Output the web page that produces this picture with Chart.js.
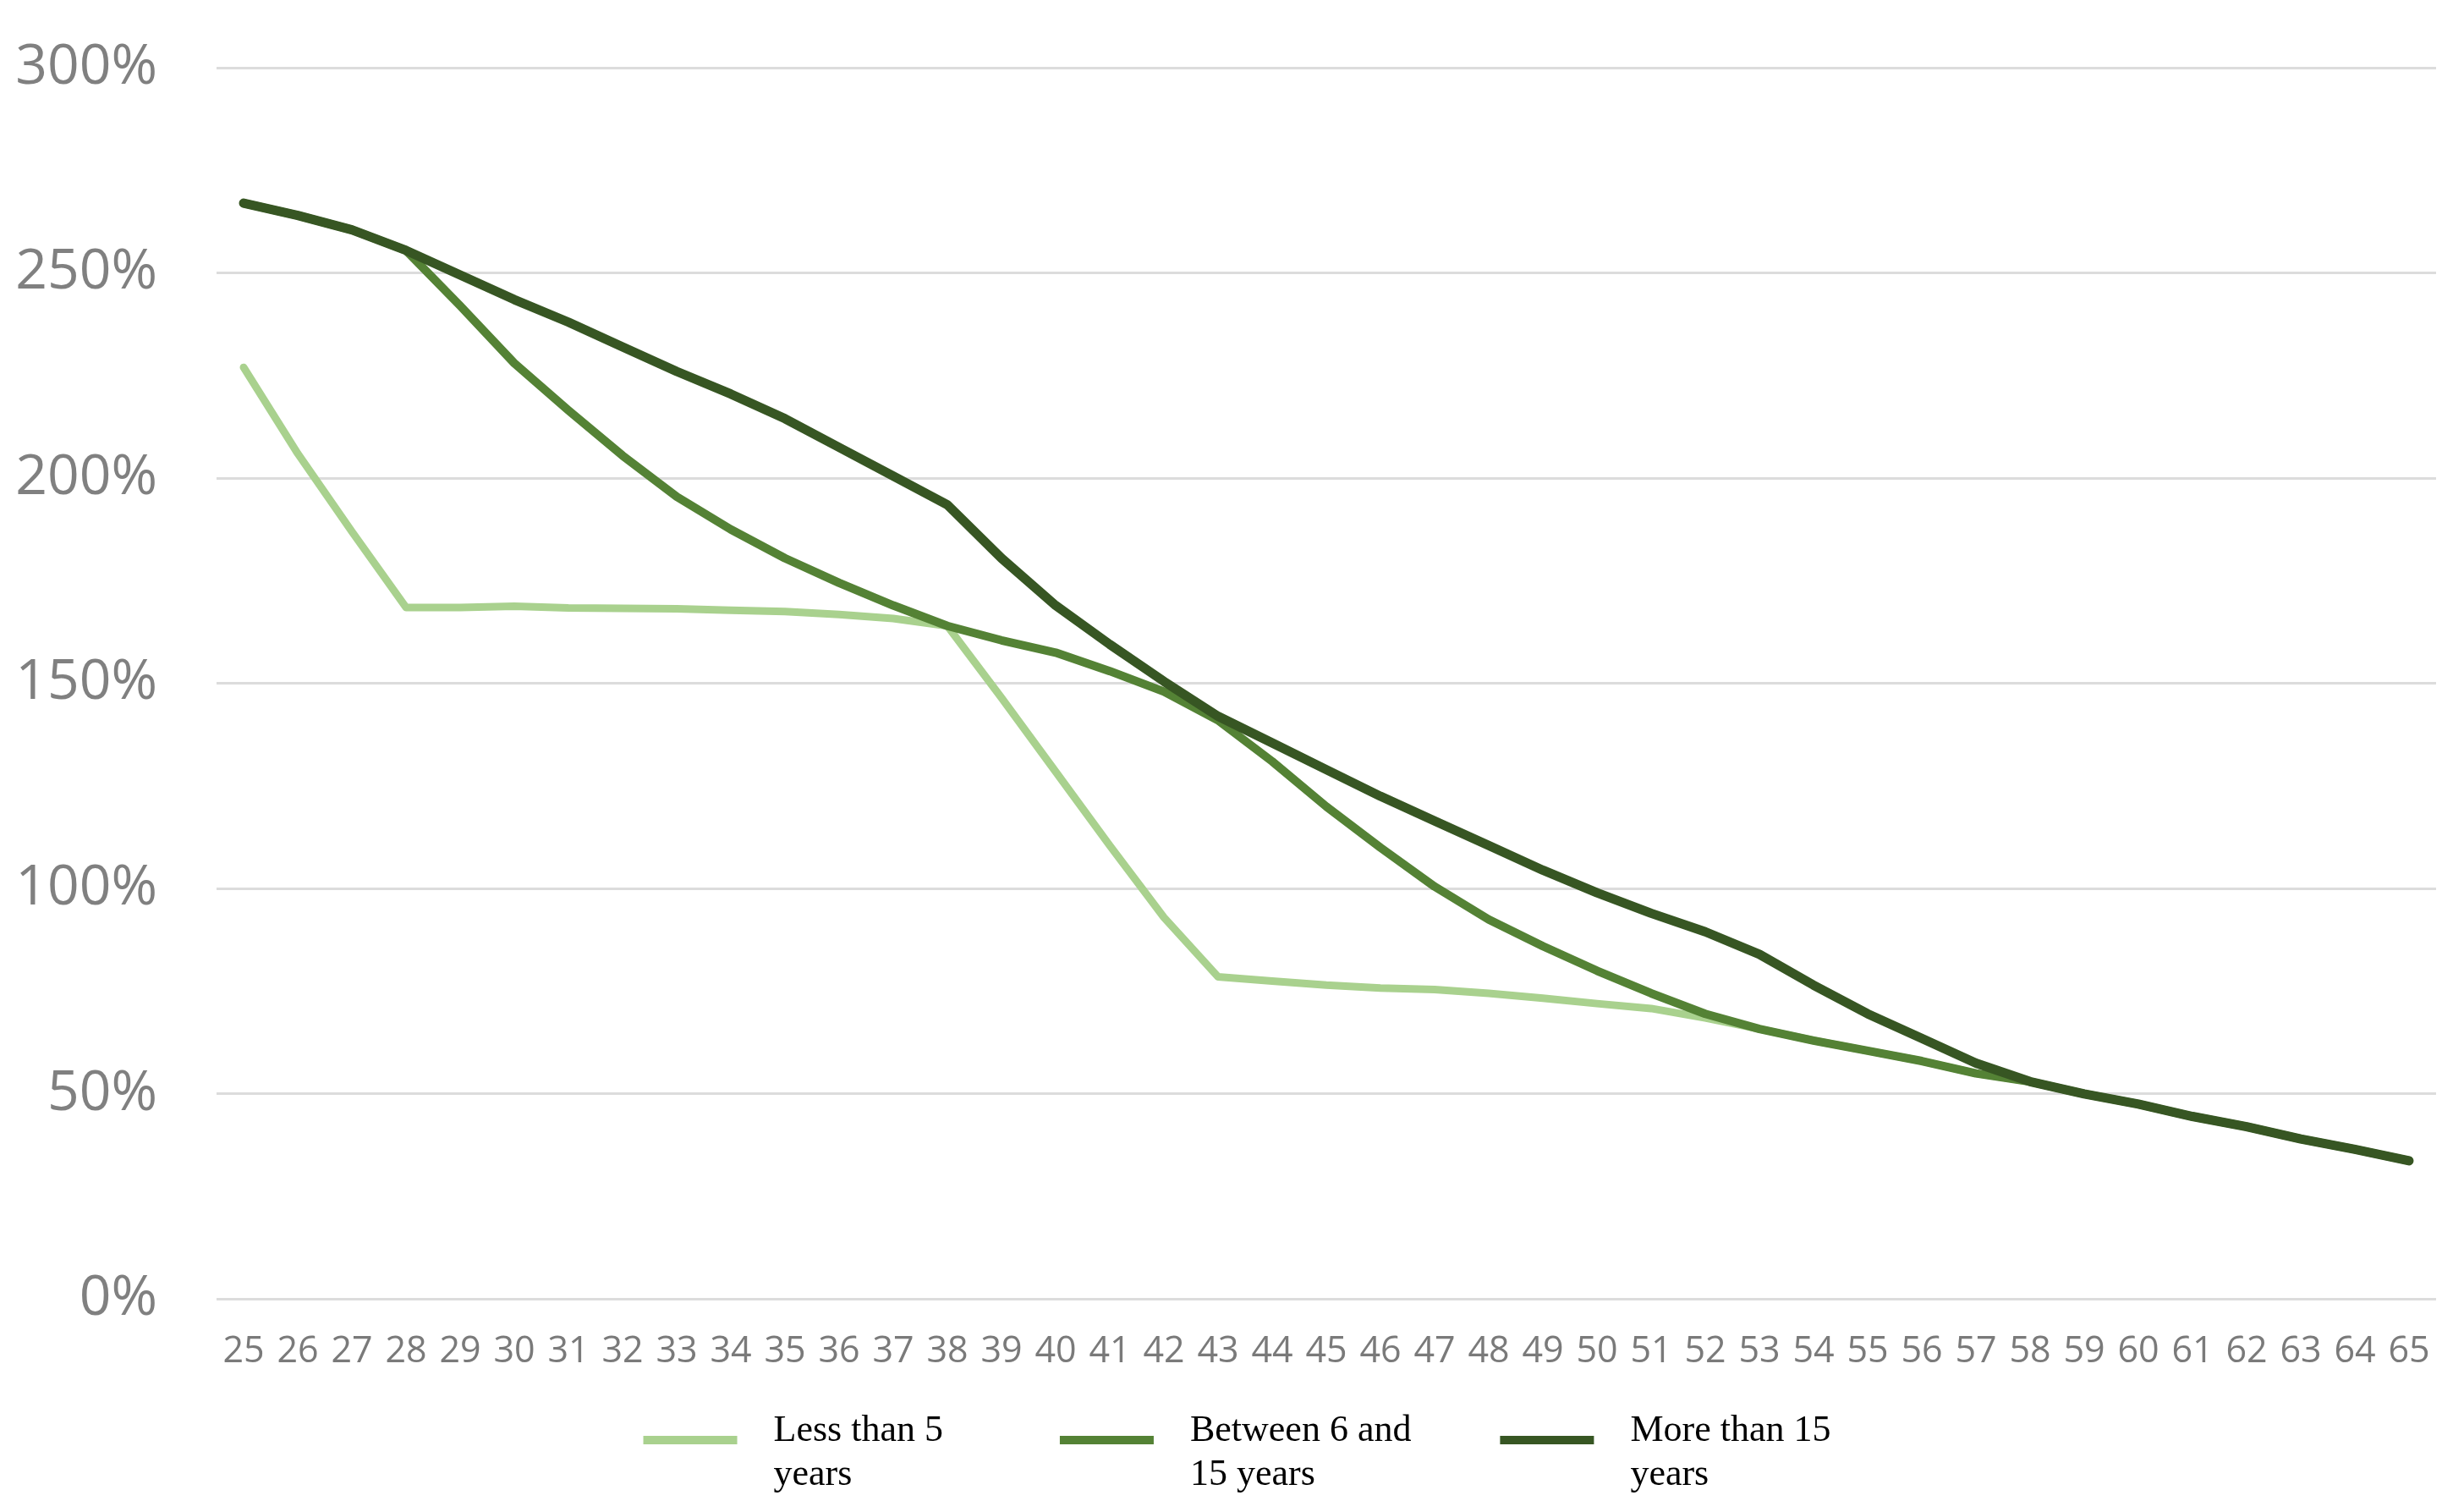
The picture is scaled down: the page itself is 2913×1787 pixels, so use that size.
<!DOCTYPE html>
<html>
<head>
<meta charset="utf-8">
<script src="https://cdn.jsdelivr.net/npm/chart.js@4.4.1/dist/chart.umd.min.js"></script>
<style>
  html, body { margin: 0; padding: 0; background: #ffffff; }
</style>
</head>
<body>
<canvas id="chart" width="2913" height="1787"></canvas>
<script>
// age labels on the x axis
const ages = ["25", "26", "27", "28", "29", "30", "31", "32", "33", "34", "35", "36", "37", "38", "39", "40",
    "41", "42", "43", "44", "45", "46", "47", "48", "49", "50", "51", "52", "53", "54", "55", "56", "57", "58",
    "59", "60", "61", "62", "63", "64", "65"]

// series values (percent)
const lessThan5 = [227, 206, 187, 168.5, 168.5, 168.8, 168.4, 168.3, 168.2, 167.8, 167.5, 166.8, 165.8, 164,
    146.5, 128.5, 110.5, 93, 78.5, 77.5, 76.5, 75.8, 75.4, 74.5, 73.3, 72, 70.8, 68.5, 65.8,
    63, 60.5, 58, 55, 53, 50, 47.5, 44.5, 42, 39, 36.5, 33.7]
const between6and15 = [267, 264, 260.5, 255.5, 242, 228, 216.5, 205.5, 195.5, 187.5, 180.5, 174.5, 169, 164,
    160.5, 157.5, 153, 148, 141, 131, 120, 110, 100.5, 92.5, 86, 80, 74.5, 69.5, 65.8,
    63, 60.5, 58, 55, 53, 50, 47.5, 44.5, 42, 39, 36.5, 33.7]
const moreThan15 = [267, 264, 260.5, 255.5, 249.5, 243.5, 238, 232, 226, 220.5, 214.5, 207.5, 200.5, 193.5,
    180.5, 169, 159.5, 150.5, 142, 135.5, 129, 122.5, 116.5, 110.5, 104.5, 99, 94, 89.5, 84,
    76.5, 69.5, 63.5, 57.5, 53, 50, 47.5, 44.5, 42, 39, 36.5, 33.7]

// legend text, wrapped as in the picture
const seriesNames = [
    ["Less than 5", "years"],
    ["Between 6 and", "15 years"],
    ["More than 15", "years"]
]
const seriesColors = ['#a9d18e', '#548235', '#375623']

const yTicks = [0, 50, 100, 150, 200, 250, 300]

function makeDataset(i, values, width, order) {
    return {
        label: seriesNames[i].join(' '),
        data: values,
        borderColor: seriesColors[i],
        backgroundColor: seriesColors[i],
        borderWidth: width,
        pointRadius: 0,
        tension: 0,
        borderCapStyle: 'round',
        borderJoinStyle: 'round',
        order: order
    }
}

// legend with two-line labels, drawn under the x axis
const wrappedLegend = {
    id: 'wrappedLegend',
    afterDraw: function(chart, args, opts) {
        var ctx = chart.ctx
        ctx.save()
        ctx.font = opts.fontSize + 'px ' + opts.fontFamily
        ctx.textBaseline = 'middle'
        ctx.textAlign = 'left'

        var items = chart.data.datasets.map(function(ds, i) {
            var textW = Math.max.apply(null, seriesNames[i].map(function(t) { return ctx.measureText(t).width }))
            return { color: ds.borderColor, lines: seriesNames[i], w: opts.boxWidth + opts.boxGap + textW }
        })
        var total = items.reduce(function(a, it) { return a + it.w }, 0)
        for (var g = 0; g < items.length - 1; g++) {
            total += opts.itemGaps[g]
        }
        var x = (chart.width - total) / 2 + opts.shiftX
        var y = chart.scales.x.bottom + opts.offset

        items.forEach(function(it, i) {
            ctx.fillStyle = it.color
            ctx.fillRect(x, y + opts.boxDrop - opts.boxHeight / 2, opts.boxWidth, opts.boxHeight)
            ctx.fillStyle = opts.color
            it.lines.forEach(function(line, k) {
                ctx.fillText(line, x + opts.boxWidth + opts.boxGap, y + k * opts.lineHeight)
            })
            x += it.w + (opts.itemGaps[i] || 0)
        })
        ctx.restore()
    }
}

const config = {
    type: 'line',
    data: {
        labels: ages,
        datasets: [
            makeDataset(0, lessThan5, 9, 3),
            makeDataset(1, between6and15, 10, 2),
            makeDataset(2, moreThan15, 11, 1)
        ]
    },
    options: {
        responsive: false,
        animation: false,
        layout: {
            padding: { left: 18, right: 33, top: 80, bottom: 126 }
        },
        plugins: {
            tooltip: { enabled: false },
            legend: { display: false },
            wrappedLegend: {
                fontFamily: 'Liberation Serif',
                fontSize: 44,
                color: '#000000',
                lineHeight: 52,
                boxWidth: 111,
                boxHeight: 10,
                boxGap: 43,
                boxDrop: 11,
                itemGaps: [138, 105],
                shiftX: 6,
                offset: 30
            }
        },
        scales: {
            x: {
                offset: true,
                grid: { display: false, drawTicks: false },
                border: { display: false },
                ticks: {
                    autoSkip: false,
                    maxRotation: 0,
                    padding: 37,
                    color: '#7a7a7a',
                    font: { family: 'Open Sans', size: 43 }
                }
            },
            y: {
                min: 0,
                max: 300,
                afterBuildTicks: function(axis) {
                    axis.ticks = yTicks.map(function(v) { return { value: v } })
                },
                afterFit: function(axis) {
                    axis.width = 238
                },
                grid: {
                    color: '#dcdcdc',
                    lineWidth: 3,
                    drawTicks: true,
                    tickLength: 70,
                    tickColor: 'rgba(0,0,0,0)'
                },
                border: { display: false },
                ticks: {
                    padding: 0,
                    color: '#808080',
                    font: { family: 'Open Sans', size: 66 },
                    callback: function(v) { return v + '%' }
                }
            }
        }
    },
    plugins: [wrappedLegend]
}

const myChart = new Chart(document.getElementById('chart'), config)
</script>
</body>
</html>
